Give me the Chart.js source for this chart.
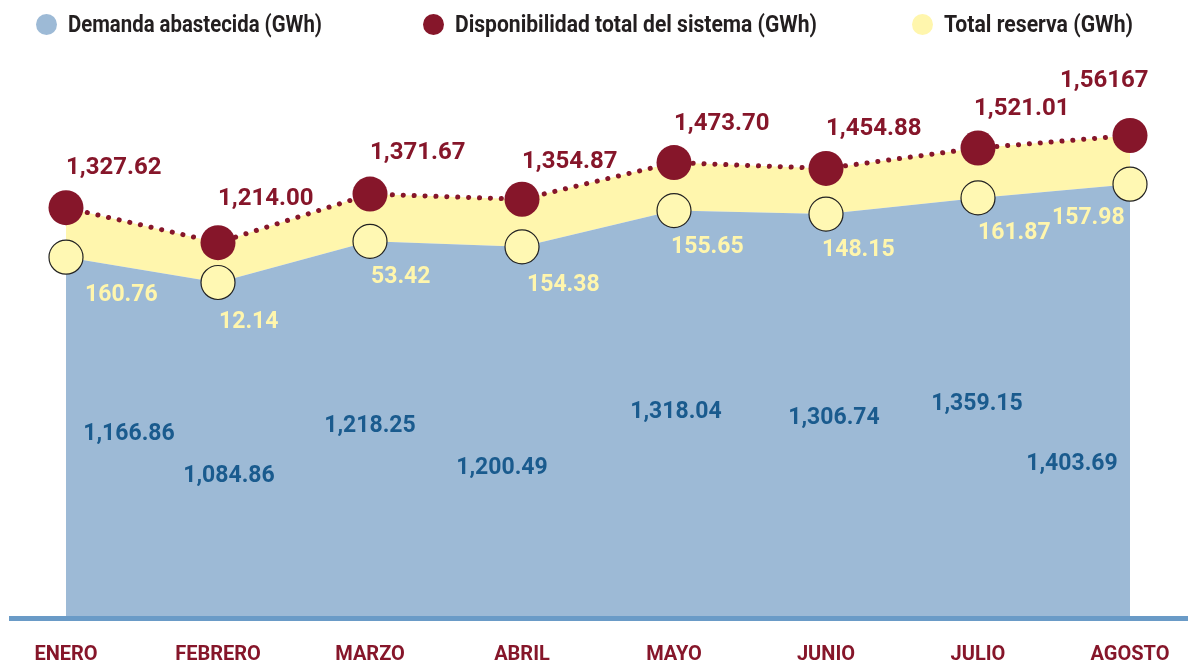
<!DOCTYPE html>
<html lang="es">
<head>
  <meta charset="UTF-8">
  <title>Demanda y disponibilidad</title>
  <style>
    body {
      margin: 0;
      padding: 0;
      background-color: #fff;
    }

    .wrap {
      position: relative;
      width: 1188px;
      height: 665px;
    }

    canvas {
      display: block;
    }

    .legend {
      position: absolute;
      top: 0;
      left: 0;
      width: 1188px;
      height: 50px;
      font-family: Roboto, sans-serif;
      font-weight: bold;
      font-size: 24px;
      color: #231f20;
    }

    .legend span {
      position: absolute;
      top: 10px;
      line-height: 28px;
      white-space: nowrap;
      transform-origin: 0 50%;
    }

    .legend i {
      position: absolute;
      top: 14px;
      width: 21px;
      height: 21px;
      border-radius: 50%;
    }
  </style>
</head>
<body>

  <div class="wrap">
    <canvas id="chart" width="1188" height="665"></canvas>
    <div class="legend" id="legend"></div>
  </div>

  <script src="https://cdn.jsdelivr.net/npm/chart.js"></script>
  <script>
    // datos (GWh)
    const months = ['ENERO', 'FEBRERO', 'MARZO', 'ABRIL', 'MAYO', 'JUNIO', 'JULIO', 'AGOSTO'];
    const demanda = [1166.86, 1084.86, 1218.25, 1200.49, 1318.04, 1306.74, 1359.15, 1403.69];
    const disponibilidad = [1327.62, 1214.00, 1371.67, 1354.87, 1473.70, 1454.88, 1521.01, 1561.67];
    const reserva = [160.76, 12.14, 53.42, 154.38, 155.65, 148.15, 161.87, 157.98];
    // textos tal como aparecen en el original
    const disponibilidadText = ['1,327.62', '1,214.00', '1,371.67', '1,354.87', '1,473.70', '1,454.88', '1,521.01', '1,56167'];

    const RED = '#86162a';
    const BLUE_FILL = '#9dbad6';
    const YELLOW = '#fff6ad';
    const BLUE_TEXT = '#1a5b8e';

    // legend (condensed look: text squeezed to the original width)
    const legendItems = [
      { text: 'Demanda abastecida (GWh)', color: BLUE_FILL, x: 36, w: 254 },
      { text: 'Disponibilidad total del sistema (GWh)', color: RED, x: 423, w: 362 },
      { text: 'Total reserva (GWh)', color: YELLOW, x: 912, w: 189 }
    ];

    const legendEl = document.getElementById('legend');
    legendItems.forEach(item => {
      const dot = document.createElement('i');
      dot.style.left = item.x + 'px';
      dot.style.background = item.color;
      const label = document.createElement('span');
      label.style.left = (item.x + 32) + 'px';
      label.textContent = item.text;
      legendEl.appendChild(dot);
      legendEl.appendChild(label);
      const natural = label.getBoundingClientRect().width;
      label.style.transform = 'scaleX(' + (item.w / natural) + ')';
    });

    // label placement around each point
    const redDx = [0, 0, 0, 0, 0, 0, -4, -70];
    const redDy = [-40, -44, -41, -37, -39, -39, -39, -54];
    const yellowDx = [19, 1, 1, 5, -3, -4, 0, -78];
    const yellowDy = [38, 40, 36, 38, 37, 36, 35, 34];
    const blueDx = [63, 11, 0, -20, 2, 8, -1, -58];
    const blueDy = [177, 194, 185, 221, 202, 204, 206, 280];

    const fmt = v => v.toLocaleString('en-US', { minimumFractionDigits: 2, maximumFractionDigits: 2 });

    const baseLine = {
      id: 'baseLine',
      afterDatasetsDraw(chart) {
        const ctx = chart.ctx;
        const y = chart.scales.y.getPixelForValue(0);
        ctx.save();
        ctx.fillStyle = '#6a9bc7';
        ctx.fillRect(9, y - 1, chart.width - 9, 5);
        ctx.restore();
      }
    };

    const valueLabels = {
      id: 'valueLabels',
      afterDatasetsDraw(chart) {
        const ctx = chart.ctx;
        const dem = chart.getDatasetMeta(0).data;
        const dis = chart.getDatasetMeta(1).data;
        ctx.save();
        ctx.textBaseline = 'middle';
        ctx.textAlign = 'left';
        ctx.font = 'bold 24px Roboto';
        ctx.fillStyle = RED;
        dis.forEach((p, i) => {
          ctx.fillText(disponibilidadText[i], p.x + redDx[i], p.y + redDy[i]);
        });
        ctx.font = 'bold 23px Roboto';
        ctx.fillStyle = YELLOW;
        dem.forEach((p, i) => {
          ctx.fillText(reserva[i].toFixed(2), p.x + yellowDx[i], p.y + yellowDy[i]);
        });
        ctx.textAlign = 'center';
        ctx.fillStyle = BLUE_TEXT;
        dem.forEach((p, i) => {
          ctx.fillText(fmt(demanda[i]), p.x + blueDx[i], p.y + blueDy[i]);
        });
        ctx.restore();
      }
    };

    new Chart(document.getElementById('chart'), {
      type: 'line',
      data: {
        labels: months,
        datasets: [
          {
            label: 'Demanda abastecida (GWh)',
            data: demanda,
            fill: 'origin',
            backgroundColor: BLUE_FILL,
            borderWidth: 0,
            borderColor: 'rgba(0,0,0,0)',
            pointRadius: 17,
            pointBackgroundColor: '#fff8b3',
            pointBorderColor: '#222',
            pointBorderWidth: 1.2,
            tension: 0,
            clip: false
          },
          {
            label: 'Disponibilidad total del sistema (GWh)',
            data: disponibilidad,
            fill: '-1',
            backgroundColor: YELLOW,
            borderColor: RED,
            borderWidth: 5,
            borderDash: [0.1, 10.8],
            borderCapStyle: 'round',
            pointRadius: 17.5,
            pointBackgroundColor: RED,
            pointBorderWidth: 0,
            tension: 0,
            clip: false
          }
        ]
      },
      options: {
        responsive: false,
        animation: false,
        layout: {
          autoPadding: false,
          padding: { top: 62, left: 66, right: 58, bottom: 1 }
        },
        plugins: {
          legend: { display: false },
          tooltip: { enabled: false }
        },
        scales: {
          x: {
            grid: { display: false, drawTicks: false },
            border: { display: false },
            ticks: {
              color: RED,
              padding: 28,
              font: { family: 'Roboto', weight: 'bold', size: 20, lineHeight: 1 }
            },
            afterFit(scale) {
              scale.height = 47;
              scale.paddingLeft = 0;
              scale.paddingRight = 0;
            }
          },
          y: {
            display: false,
            min: 0,
            max: 1800
          }
        }
      },
      plugins: [baseLine, valueLabels]
    });
  </script>

</body>
</html>
